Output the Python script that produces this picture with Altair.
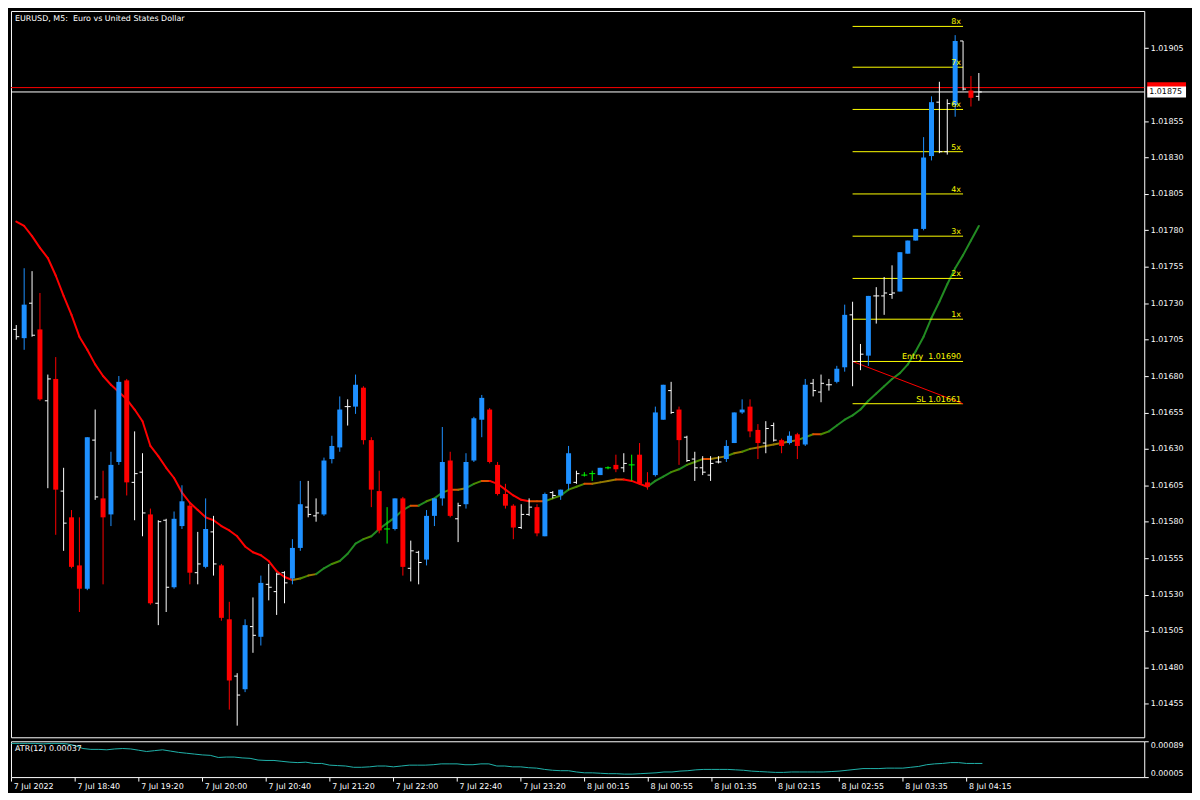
import altair as alt
import pandas as pd

TITLE = "EURUSD, M5:\u00a0 Euro vs United States Dollar"

# bar style per 5-minute bar: B = bull candle, R = bear candle, W = white OHLC bar, G = green OHLC bar
KIND = list("WBWRWRWRRB" "WRBBRWWRWW" "BBRWBWRRWB" "WBWWWBBWWB" "BBWBRRRGBR"
            "WWBBBRWBBB" "RRRRWWRBWB" "BWGGBGRWGR" "RBBWRWWWWW" "BBBRRWWRBR"
            "BWWWBBWWBW" "WWBBBBBWWB" "WRW")

# prices in points (1e-5)
OPEN = [101712, 101706, 101730, 101712, 101663, 101678, 101601, 101583, 101550, 101534,
        101636, 101596, 101585, 101621, 101677, 101607, 101614, 101585, 101524, 101581,
        101535, 101577, 101591, 101545, 101549, 101573, 101550, 101513, 101474, 101465,
        101508, 101501, 101537, 101532, 101545, 101541, 101562, 101590, 101584, 101585,
        101623, 101631, 101659, 101659, 101672, 101636, 101601, 101575, 101575, 101596,
        101548, 101559, 101554, 101584, 101596, 101622, 101582, 101592, 101622, 101650,
        101657, 101619, 101599, 101591, 101576, 101585, 101590, 101570, 101600, 101598,
        101606, 101607, 101612, 101613, 101612, 101617, 101619, 101617, 101619, 101626,
        101607, 101612, 101650, 101670, 101657, 101638, 101623, 101617, 101612, 101621,
        101623, 101634, 101655, 101659, 101643, 101634, 101646, 101636, 101634, 101640,
        101633, 101675, 101669, 101674, 101676, 101686, 101722, 101690, 101694, 101735,
        101735, 101736, 101738, 101764, 101773, 101781, 101831, 101868, 101834, 101866,
        101910, 101876, 101872]
HIGH = [101715, 101754, 101752, 101737, 101681, 101693, 101617, 101588, 101583, 101638,
        101657, 101615, 101628, 101680, 101678, 101642, 101627, 101589, 101581, 101582,
        101587, 101605, 101593, 101573, 101596, 101584, 101551, 101525, 101476, 101513,
        101528, 101543, 101551, 101545, 101546, 101568, 101608, 101608, 101596, 101624,
        101639, 101666, 101664, 101681, 101673, 101638, 101615, 101590, 101596, 101597,
        101567, 101560, 101588, 101596, 101645, 101628, 101593, 101627, 101652, 101667,
        101658, 101621, 101606, 101592, 101592, 101596, 101592, 101600, 101601, 101602,
        101632, 101615, 101614, 101615, 101617, 101618, 101626, 101627, 101626, 101634,
        101614, 101659, 101674, 101676, 101659, 101639, 101628, 101625, 101625, 101625,
        101636, 101655, 101664, 101664, 101647, 101649, 101648, 101637, 101642, 101641,
        101678, 101678, 101681, 101678, 101687, 101729, 101731, 101702, 101735, 101741,
        101748, 101756, 101765, 101773, 101781, 101844, 101872, 101882, 101870, 101914,
        101910, 101886, 101888]
LOW = [101705, 101698, 101707, 101663, 101603, 101571, 101560, 101548, 101518, 101533,
       101595, 101537, 101577, 101619, 101598, 101581, 101570, 101523, 101509, 101518,
       101534, 101575, 101537, 101537, 101548, 101543, 101512, 101451, 101440, 101463,
       101490, 101495, 101526, 101516, 101524, 101537, 101560, 101583, 101580, 101584,
       101620, 101628, 101646, 101654, 101633, 101590, 101572, 101565, 101574, 101543,
       101539, 101537, 101550, 101577, 101591, 101583, 101566, 101589, 101621, 101638,
       101620, 101598, 101589, 101568, 101575, 101584, 101570, 101570, 101596, 101595,
       101602, 101606, 101611, 101608, 101612, 101616, 101614, 101614, 101608, 101606,
       101602, 101611, 101650, 101654, 101619, 101621, 101608, 101612, 101608, 101620,
       101621, 101634, 101654, 101638, 101623, 101627, 101635, 101627, 101633, 101623,
       101632, 101666, 101662, 101670, 101675, 101683, 101673, 101684, 101687, 101716,
       101722, 101733, 101738, 101764, 101773, 101780, 101828, 101833, 101832, 101858,
       101876, 101865, 101869]
CLOSE = [101707, 101729, 101708, 101664, 101678, 101602, 101579, 101549, 101534, 101638,
         101597, 101583, 101619, 101676, 101607, 101613, 101586, 101524, 101580, 101535,
         101582, 101594, 101545, 101551, 101575, 101551, 101514, 101471, 101461, 101509,
         101502, 101538, 101535, 101544, 101538, 101562, 101592, 101585, 101586, 101622,
         101632, 101657, 101659, 101674, 101636, 101602, 101574, 101575, 101596, 101549,
         101560, 101552, 101584, 101596, 101621, 101584, 101591, 101621, 101651, 101665,
         101621, 101599, 101591, 101576, 101585, 101590, 101572, 101599, 101598, 101602,
         101627, 101613, 101612, 101613, 101617, 101617, 101616, 101620, 101619, 101606,
         101604, 101655, 101674, 101655, 101636, 101622, 101617, 101614, 101620, 101621,
         101632, 101655, 101657, 101642, 101634, 101644, 101636, 101632, 101639, 101632,
         101674, 101670, 101675, 101674, 101685, 101722, 101690, 101695, 101735, 101735,
         101737, 101737, 101765, 101773, 101781, 101830, 101868, 101834, 101867, 101910,
         101877, 101871, 101875]

# moving average (points)
MA = [101786, 101783, 101776, 101768, 101761, 101749, 101735, 101722, 101707, 101698,
      101688, 101680, 101674, 101669, 101664, 101657, 101649, 101632, 101625, 101617,
      101610, 101600, 101593, 101588, 101583, 101581, 101577, 101574, 101570, 101563,
      101559, 101557, 101553, 101546, 101542, 101540, 101541, 101543, 101544, 101548,
      101551, 101553, 101558, 101565, 101568, 101570, 101575, 101579, 101583, 101588,
      101591, 101591, 101594, 101596, 101600, 101602, 101602, 101603, 101606, 101608,
      101608, 101606, 101602, 101598, 101595, 101594, 101594, 101594, 101596, 101598,
      101602, 101604, 101606, 101606, 101607, 101608, 101609, 101609, 101608, 101606,
      101604, 101608, 101611, 101614, 101616, 101619, 101621, 101623, 101623, 101624,
      101625, 101627, 101628, 101630, 101631, 101632, 101633, 101634, 101635, 101636,
      101638, 101640, 101640, 101642, 101646, 101650, 101653, 101657, 101663, 101668,
      101673, 101678, 101682, 101688, 101697, 101707, 101720, 101731, 101743, 101754,
      101763, 101773, 101783]

# ATR(12) in points
ATR = [84, 84, 84, 84, 83, 84, 84, 83, 79, 72,
       70, 70, 69, 71, 72, 71, 68, 65, 67, 69,
       66, 63, 61, 59, 57, 56, 51, 52, 52, 50,
       49, 45, 44, 44, 42, 40, 39, 40, 37, 37,
       33, 32, 31, 28, 28, 29, 31, 31, 29, 31,
       33, 33, 33, 34, 36, 36, 36, 34, 34, 36,
       36, 31, 31, 29, 29, 27, 26, 23, 21, 20,
       20, 17, 15, 15, 14, 13, 13, 12, 12, 13,
       14, 15, 17, 17, 19, 20, 22, 23, 23, 23,
       23, 22, 21, 19, 18, 17, 16, 16, 17, 17,
       17, 17, 17, 18, 19, 21, 23, 25, 25, 25,
       26, 26, 26, 28, 30, 34, 36, 37, 39, 39,
       37, 37, 37]

TIME_TICKS = [0, 8, 16, 24, 32, 40, 48, 56, 64, 72, 80, 88, 96, 104, 112, 120]
TIME_LABELS = ["7 Jul 2022", "7 Jul 18:40", "7 Jul 19:20", "7 Jul 20:00", "7 Jul 20:40",
               "7 Jul 21:20", "7 Jul 22:00", "7 Jul 22:40", "7 Jul 23:20", "8 Jul 00:15",
               "8 Jul 00:55", "8 Jul 01:35", "8 Jul 02:15", "8 Jul 02:55", "8 Jul 03:35",
               "8 Jul 04:15"]
PRICE_TICKS = [1.01455, 1.01480, 1.01505, 1.01530, 1.01555, 1.01580, 1.01605, 1.01630,
               1.01655, 1.01680, 1.01705, 1.01730, 1.01755, 1.01780, 1.01805, 1.01830,
               1.01855, 1.01905]

ENTRY = 1.01690
SL = 1.01661
LEVEL_NAMES = ["SL " + f"{SL:.5f}", "Entry\u00a0 " + f"{ENTRY:.5f}", "1x", "2x", "3x", "4x",
               "5x", "6x", "7x", "8x"]
LEVEL_PRICES = [101661, 101690, 101719, 101747, 101776, 101805, 101834, 101863, 101892, 101920]
LEVEL_START, LEVEL_END = 106, 120
BID, ASK = 1.01875, 1.01878
ATR_NOW = 0.00037

n = len(KIND)
bars = pd.DataFrame({
    "i": list(range(n)), "kind": KIND,
    "o": [v / 1e5 for v in OPEN], "h": [v / 1e5 for v in HIGH],
    "l": [v / 1e5 for v in LOW], "c": [v / 1e5 for v in CLOSE],
})
ma = pd.DataFrame({
    "i": list(range(n - 1)), "i2": list(range(1, n)),
    "m": [v / 1e5 for v in MA[:-1]], "m2": [v / 1e5 for v in MA[1:]],
    "slope": [b - a for a, b in zip(MA[:-1], MA[1:])],
})
atr = pd.DataFrame({"i": list(range(n)), "a": [v / 1e5 for v in ATR]})
levels = pd.DataFrame({"name": LEVEL_NAMES, "p": [v / 1e5 for v in LEVEL_PRICES],
                       "s": [LEVEL_START] * len(LEVEL_NAMES), "e": [LEVEL_END] * len(LEVEL_NAMES)})
diag_df = pd.DataFrame({"s": [LEVEL_START], "e": [LEVEL_END], "p1": [ENTRY], "p2": [SL]})
lines_df = pd.DataFrame({"p": [ASK, BID], "col": ["#ff0000", "#ffffff"]})
tag_df = pd.DataFrame({"p": [BID], "t": [f"{BID:.5f}"]})

W, H_MAIN, H_ATR = 1139, 730, 36
FONT = "DejaVu Sans"
BAR_PX = 8.0
xs = alt.Scale(domain=[-0.04, -0.04 + W / BAR_PX], nice=False, zero=False)
ys = alt.Scale(domain=[1.01432, 1.019306], nice=False, zero=False)
X = alt.X("i:Q", scale=xs, axis=None)

kind_color = alt.Color("kind:N", scale=alt.Scale(domain=["B", "R", "W", "G"],
                       range=["#1e90ff", "#ff0000", "#ffffff", "#00ff00"]), legend=None)

price_axis = alt.Axis(orient="right", values=PRICE_TICKS, format=".5f", labelColor="#ffffff",
                      labelFont=FONT, labelFontSize=8, tickColor="#ffffff", tickSize=4,
                      labelPadding=2, domain=False, grid=False, title=None, labelOverlap=False)

price_lines = alt.Chart(lines_df).mark_rule(strokeWidth=1).encode(
    y=alt.Y("p:Q", scale=ys, axis=price_axis), color=alt.Color("col:N", scale=None))

ma_layer = alt.Chart(ma).mark_rule(strokeWidth=2, strokeCap="round").encode(
    x=X, x2="i2:Q", y=alt.Y("m:Q", scale=ys, axis=price_axis), y2="m2:Q",
    color=alt.Color("slope:Q", scale=alt.Scale(domain=[-0.5, 2.5], range=["#ff0000", "#228b22"],
                                               clamp=True), legend=None))

lvl_rules = alt.Chart(levels).mark_rule(color="#ffff00", strokeWidth=1).encode(
    x=alt.X("s:Q", scale=xs, axis=None), x2="e:Q", y=alt.Y("p:Q", scale=ys, axis=price_axis))

diag = alt.Chart(diag_df).mark_rule(color="#ff0000", strokeWidth=1).encode(
    x=alt.X("s:Q", scale=xs, axis=None), x2="e:Q",
    y=alt.Y("p1:Q", scale=ys, axis=price_axis), y2="p2:Q")

wicks = alt.Chart(bars).mark_rule(strokeWidth=1).encode(
    x=X, y=alt.Y("l:Q", scale=ys, axis=price_axis), y2="h:Q", color=kind_color)

bodies = alt.Chart(bars).transform_filter("datum.kind == 'B' || datum.kind == 'R'").mark_bar(size=5).encode(
    x=X, y=alt.Y("o:Q", scale=ys, axis=price_axis), y2="c:Q", color=kind_color)

ohlc = alt.Chart(bars).transform_filter("datum.kind == 'W' || datum.kind == 'G'")
ticks_open = ohlc.mark_rule(strokeWidth=1, xOffset=-3, x2Offset=0).encode(
    x=X, x2="i:Q", y=alt.Y("o:Q", scale=ys, axis=price_axis), color=kind_color)
ticks_close = ohlc.mark_rule(strokeWidth=1, xOffset=0, x2Offset=3).encode(
    x=X, x2="i:Q", y=alt.Y("c:Q", scale=ys, axis=price_axis), color=kind_color)

lvl_text = alt.Chart(levels).mark_text(align="right", baseline="alphabetic", dx=-2, dy=-2,
                                       color="#ffff00", font=FONT, fontSize=8).encode(
    x=alt.X("e:Q", scale=xs, axis=None), y=alt.Y("p:Q", scale=ys, axis=price_axis), text="name:N")

tags = alt.Chart(lines_df).mark_rule(strokeWidth=11).encode(
    x=alt.value(W + 3), x2=alt.value(W + 42), y=alt.Y("p:Q", scale=ys, axis=price_axis),
    color=alt.Color("col:N", scale=None))
tag_text = alt.Chart(tag_df).mark_text(align="left", baseline="middle", color="#000000",
                                       font=FONT, fontSize=8).encode(
    x=alt.value(W + 5), y=alt.Y("p:Q", scale=ys, axis=price_axis), text="t:N")

header = alt.Chart(pd.DataFrame({"t": [TITLE]})).mark_text(
    align="left", baseline="middle", color="#ffffff", font=FONT, fontSize=8).encode(
    x=alt.value(4), y=alt.value(8), text="t:N")

main = alt.layer(price_lines, ma_layer, lvl_rules, diag, wicks, bodies, ticks_open, ticks_close,
                 lvl_text, tags, tag_text, header).resolve_scale(
    color="independent").properties(width=W, height=H_MAIN)

expr = " : ".join(f"datum.value == {t} ? '{s}'" for t, s in zip(TIME_TICKS, TIME_LABELS)) + " : ''"
time_axis = alt.Axis(values=TIME_TICKS, labelExpr=expr, labelAlign="left", labelBaseline="top",
                     labelOffset=2, labelPadding=1, tickSize=4, tickColor="#ffffff",
                     labelColor="#ffffff", labelFont=FONT, labelFontSize=8, domain=False,
                     grid=False, title=None, labelOverlap=False, labelFlush=False)
atr_axis = alt.Axis(orient="right", values=[0.00005, 0.00089], format=".5f", labelFlush=True,
                    labelColor="#ffffff", labelFont=FONT, labelFontSize=8, tickColor="#ffffff",
                    tickSize=4, labelPadding=2, domain=False, grid=False, title=None)

atr_line = alt.Chart(atr).mark_line(color="#20b2aa", strokeWidth=1).encode(
    x=alt.X("i:Q", scale=xs, axis=time_axis),
    y=alt.Y("a:Q", scale=alt.Scale(domain=[0.00005, 0.00089], nice=False, zero=False), axis=atr_axis))
atr_text = alt.Chart(pd.DataFrame({"t": [f"ATR(12) {ATR_NOW:.5f}"]})).mark_text(
    align="left", baseline="middle", color="#ffffff", font=FONT, fontSize=8).encode(
    x=alt.value(4), y=alt.value(8), text="t:N")
atr_panel = alt.layer(atr_line, atr_text).properties(width=W, height=H_ATR)

chart = alt.vconcat(main, atr_panel, spacing=2).resolve_scale(
    x="independent", y="independent").properties(
    padding=0, background="#000000").configure_view(stroke="#ffffff", strokeWidth=1)

chart.save("out.html", embed_options={"renderer": "svg", "actions": False})
